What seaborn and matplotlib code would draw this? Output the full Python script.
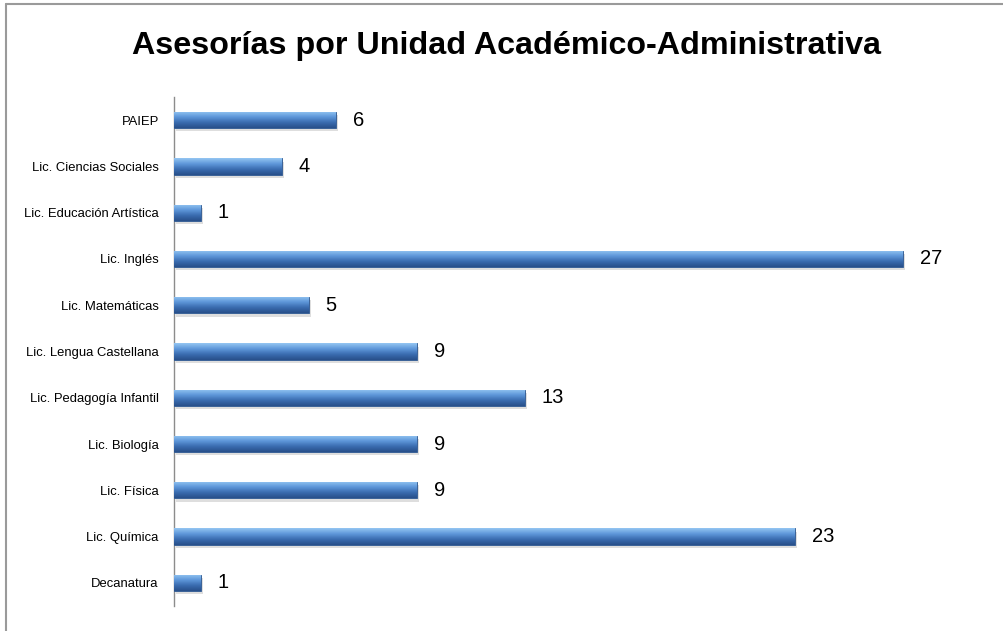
import numpy as np
import pandas as pd
import matplotlib
matplotlib.use("Agg")
import matplotlib.pyplot as plt
import seaborn as sns
from matplotlib.lines import Line2D

# data
unidades = ["PAIEP", "Lic. Ciencias Sociales", "Lic. Educación Artística", "Lic. Inglés",
            "Lic. Matemáticas", "Lic. Lengua Castellana", "Lic. Pedagogía Infantil",
            "Lic. Biología", "Lic. Física", "Lic. Química", "Decanatura"]
asesorias = [6, 4, 1, 27, 5, 9, 13, 9, 9, 23, 1]

df = pd.DataFrame({"unidad": unidades, "asesorias": asesorias})

sns.set_theme(style="white")
plt.rcParams["font.family"] = ["Liberation Sans", "DejaVu Sans"]

fig = plt.figure(figsize=(10.04, 6.31), dpi=100)
ax = fig.add_axes([174 / 1004, 1 - 606 / 631, 810 / 1004, 509 / 631])

sns.barplot(data=df, y="unidad", x="asesorias", orient="h", color="#4a80c4",
            width=0.35, ax=ax, zorder=3)

# gradient fill + soft shadow for each bar (light on top, dark below)
grad = np.linspace(0, 1, 64).reshape(-1, 1)
cmap = matplotlib.colors.LinearSegmentedColormap.from_list(
    "barra", ["#94c6f2", "#5f98da", "#3a6cb0", "#28508a"])
for p in ax.patches:
    x0, y0 = p.get_x(), p.get_y()
    w, h = p.get_width(), p.get_height()
    sh = plt.Rectangle((x0 + 0.06, y0 + 0.07), w, h, color="#000000", alpha=0.13,
                       lw=0, zorder=2)
    ax.add_patch(sh)
    im = ax.imshow(grad, cmap=cmap, aspect="auto", extent=(x0, x0 + w, y0 + h, y0),
                   origin="upper", zorder=4)
    im.set_clip_path(p)
    p.set_edgecolor("#2b5690")
    p.set_linewidth(0.6)

for i, v in enumerate(asesorias):
    ax.text(v + 0.62, i, str(v), va="center", ha="left", fontsize=14.5, color="black")

ax.set_xlim(0, 30)
ax.set_ylim(10.5, -0.5)
ax.set_xlabel("")
ax.set_ylabel("")
ax.set_xticks([])
for s in ["top", "right", "bottom"]:
    ax.spines[s].set_visible(False)
ax.spines["left"].set_color("#8c8c8c")
ax.spines["left"].set_linewidth(1)
ax.tick_params(axis="y", length=0, pad=11, labelsize=9.4, colors="black")

fig.text(507 / 1004, 1 - 46 / 631, "Asesorías por Unidad Académico-Administrativa",
         ha="center", va="center", fontsize=23.2, fontweight="bold", color="black")

# chart frame (top and left edges)
fig.add_artist(Line2D([6 / 1004, 1], [1 - 4 / 631, 1 - 4 / 631], color="#9a9a9a", lw=1.5))
fig.add_artist(Line2D([6 / 1004, 6 / 1004], [0, 1 - 4 / 631], color="#9a9a9a", lw=1.5))

fig.savefig("out.png", dpi=100)
